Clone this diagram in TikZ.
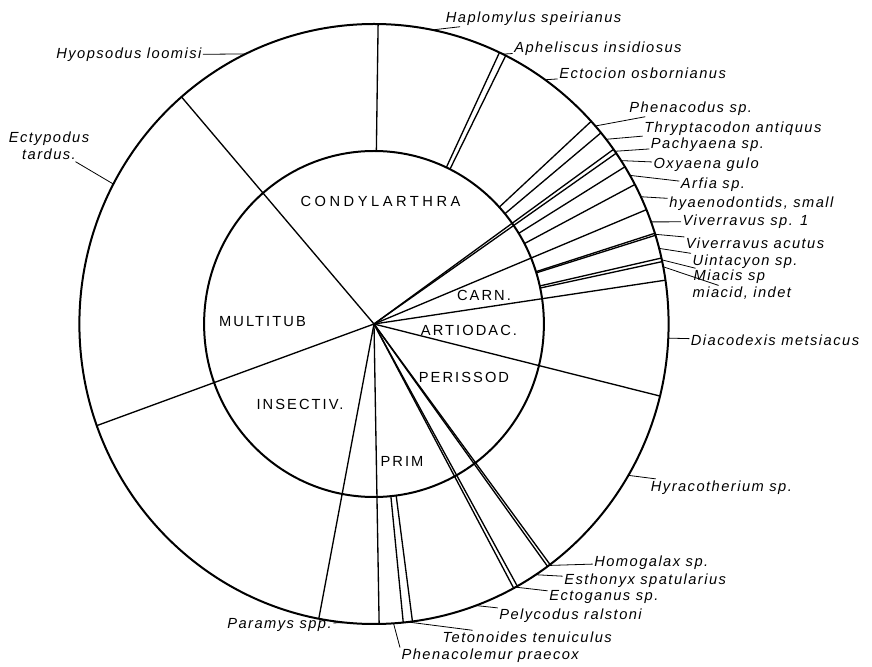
\documentclass[tikz,border=0pt]{standalone}
\usepackage{fontspec}
\setmainfont{Liberation Sans}
\newfontfamily\specfont[LetterSpace=10]{Liberation Sans}
\newfontfamily\orderfont[LetterSpace=14]{Liberation Sans}
\newfontfamily\wideorderfont[LetterSpace=24]{Liberation Sans}

\def\Rx{294.6}
\def\Ry{300}
\def\rx{169.9}
\def\ry{173}
% point on the outer / inner rim at angle #1
\def\rim#1{({\Rx*cos(#1)},{\Ry*sin(#1)})}
\def\hub#1{({\rx*cos(#1)},{\ry*sin(#1)})}

\begin{document}
\begin{tikzpicture}[%
        x=0.75pt, y=0.75pt,
        ring/.style={line width=1.5pt},
        order/.style={line width=1pt},
        split/.style={line width=1pt},
        leader/.style={line width=0.6pt},
        taxon/.style={font=\specfont\itshape\fontsize{11}{13}\selectfont,
                      inner sep=1pt, anchor=west},
        ordname/.style={font=\orderfont\fontsize{11}{13}\selectfont, inner sep=0pt}
        ]

        \useasboundingbox (-374,-343) rectangle (498,324);
        \coordinate (c) at (0,0);

        % rings
        \draw[ring] (c) ellipse [x radius=\Rx, y radius=\Ry];
        \draw[ring] (c) ellipse [x radius=\rx, y radius=\ry];

        % order boundaries, centre to rim
        \foreach \a in {130.8, 35.6, 34.7, 22.4, 8.4, -13.9, -53.3, -53.9,
                        -60.9, -61.7, -89, -100.8, 199.8}
            \draw[order] (c) -- \rim{\a};

        % species boundaries, outer ring only
        \foreach \a in {89.2, 64.8, 63.45, 42.5, 39.6, 31.6, 27.7, 17.6, 17.2,
                        12.7, 12.0, -82.5, -84.3}
            \draw[split] \hub{\a} -- \rim{\a};

        % order names
        \node[ordname, font=\wideorderfont\fontsize{11}{13}\selectfont] (condy) at (6.5,123) {CONDYLARTHRA};
        \node[ordname] (multi) at (-111.5,2) {MULTITUB};
        \node[ordname] (carn) at (110,29) {CARN.};
        \node[ordname] (artio) at (95,-6) {ARTIODAC.};
        \node[ordname] (peris) at (90,-53) {PERISSOD};
        \node[ordname] (insec) at (-74,-80) {INSECTIV.};
        \node[ordname] (prim) at (28,-137.5) {PRIM};

        % points on the rim
        \path \rim{115.8} coordinate (p-hyo);
        \path \rim{152.2} coordinate (p-ect);
        \path \rim{78.6} coordinate (p-hap);
        \path \rim{64.1} coordinate (p-aph);
        \path \rim{54.5} coordinate (p-eco);
        \path \rim{41.3} coordinate (p-phe);
        \path \rim{38.0} coordinate (p-thr);
        \path \rim{35.15} coordinate (p-pac);
        \path \rim{33.0} coordinate (p-oxy);
        \path \rim{29.7} coordinate (p-arf);
        \path \rim{25.1} coordinate (p-hya);
        \path \rim{19.9} coordinate (p-viv);
        \path \rim{17.4} coordinate (p-vac);
        \path \rim{14.6} coordinate (p-uin);
        \path \rim{12.35} coordinate (p-mia);
        \path \rim{11.0} coordinate (p-mid);
        \path \rim{-2.7} coordinate (p-dia);
        \path \rim{-30.3} coordinate (p-hyr);
        \path \rim{-53.6} coordinate (p-hom);
        \path \rim{-56.7} coordinate (p-est);
        \path \rim{-61.3} coordinate (p-ecg);
        \path \rim{-69.8} coordinate (p-pel);
        \path \rim{-83.4} coordinate (p-tet);
        \path \rim{-86.2} coordinate (p-phc);
        \path \rim{-95.6} coordinate (p-par);

        % species names
        \node[taxon, anchor=east] (hyopsodus) at (-171,269) {Hyopsodus loomisi};
        \node[taxon, anchor=center, align=center] (ectypodus) at (-325,178) {Ectypodus\\tardus.};
        \node[taxon] (haplomylus) at (70.3,305.7) {Haplomylus speirianus};
        \node[taxon] (apheliscus) at (138.7,275.7) {Apheliscus insidiosus};
        \node[taxon] (ectocion) at (183.7,250.7) {Ectocion osbornianus};
        \node[taxon] (phenacodus) at (253.7,215.7) {Phenacodus sp.};
        \node[taxon] (thryptacodon) at (268.7,195.7) {Thryptacodon antiquus};
        \node[taxon] (pachyaena) at (275.3,179) {Pachyaena sp.};
        \node[taxon] (oxyaena) at (278,159.7) {Oxyaena gulo};
        \node[taxon] (arfia) at (305.3,139) {Arfia sp.};
        \node[taxon] (hyaenodont) at (293.7,120.7) {hyaenodontids, small};
        \node[taxon] (viverravus) at (307,102.3) {Viverravus sp. 1};
        \node[taxon] (vacutus) at (310.3,80.7) {Viverravus acutus};
        \node[taxon] (uintacyon) at (317,62.3) {Uintacyon sp.};
        \node[taxon] (miacis) at (318,47.3) {Miacis sp};
        \node[taxon] (miacid) at (317,30.7) {miacid, indet};
        \node[taxon] (diacodexis) at (315.3,-16.7) {Diacodexis metsiacus};
        \node[taxon] (hyracotherium) at (275.3,-163.3) {Hyracotherium sp.};
        \node[taxon] (homogalax) at (218.7,-238.3) {Homogalax sp.};
        \node[taxon] (esthonyx) at (188.7,-256.7) {Esthonyx spatularius};
        \node[taxon] (ectoganus) at (173.7,-273.3) {Ectoganus sp.};
        \node[taxon] (pelycodus) at (123.7,-291.7) {Pelycodus ralstoni};
        \node[taxon] (tetonoides) at (67,-313.3) {Tetonoides tenuiculus};
        \node[taxon] (phenacolemur) at (26,-332) {Phenacolemur praecox};
        \node[taxon, anchor=east] (paramys) at (-40.7,-300.7) {Paramys spp.};

        % leaders
        \draw[leader] (hyopsodus) -- (p-hyo);
        \draw[leader] (ectypodus) -- (p-ect);
        \draw[leader] (haplomylus) -- (p-hap);
        \draw[leader] (apheliscus) -- (p-aph);
        \draw[leader] (ectocion) -- (p-eco);
        \draw[leader] (phenacodus) -- (p-phe);
        \draw[leader] (thryptacodon) -- (p-thr);
        \draw[leader] (pachyaena) -- (p-pac);
        \draw[leader] (oxyaena) -- (p-oxy);
        \draw[leader] (arfia) -- (p-arf);
        \draw[leader] (hyaenodont) -- (p-hya);
        \draw[leader] (viverravus) -- (p-viv);
        \draw[leader] (vacutus) -- (p-vac);
        \draw[leader] (uintacyon) -- (p-uin);
        \draw[leader] (miacis) -- (p-mia);
        \draw[leader] (miacid) -- (p-mid);
        \draw[leader] (diacodexis) -- (p-dia);
        \draw[leader] (hyracotherium) -- (p-hyr);
        \draw[leader] (homogalax) -- (p-hom);
        \draw[leader] (esthonyx) -- (p-est);
        \draw[leader] (ectoganus) -- (p-ecg);
        \draw[leader] (pelycodus) -- (p-pel);
        \draw[leader] (tetonoides) -- (p-tet);
        \draw[leader] (phenacolemur.north west) -- (p-phc);
        \draw[leader] (paramys) -- (p-par);

\end{tikzpicture}
\end{document}
